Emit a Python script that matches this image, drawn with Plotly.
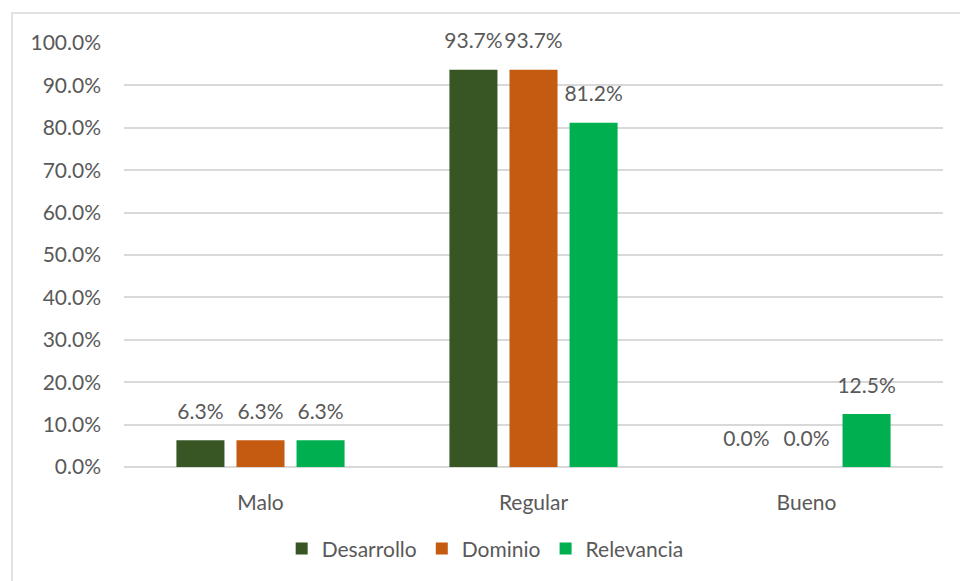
import plotly.graph_objects as go

categories = ["Malo", "Regular", "Bueno"]
series_names = ["Desarrollo", "Dominio", "Relevancia"]
desarrollo = [0.063, 0.937, 0.0]
dominio = [0.063, 0.937, 0.0]
relevancia = [0.063, 0.812, 0.125]
colors = ["#375623", "#C55A11", "#00B050"]
y_ticks = [0, 0.1, 0.2, 0.3, 0.4, 0.5, 0.6, 0.7, 0.8, 0.9, 1.0]

FONT = "Lato, 'Open Sans', sans-serif"
GRAY = "#595959"
FS = 21

fig = go.Figure()
series = [desarrollo, dominio, relevancia]
for i, (name, vals, col) in enumerate(zip(series_names, series, colors)):
    fig.add_trace(go.Bar(
        x=categories, y=vals, name=name, offsetgroup=str(i),
        marker=dict(color=col, line=dict(width=0)),
    ))
for i, (name, vals) in enumerate(zip(series_names, series)):
    fig.add_trace(go.Scatter(
        x=categories, y=vals, name=name, offsetgroup=str(i), showlegend=False,
        mode="markers+text", marker=dict(size=24, opacity=0),
        text=[f"{v:.1%}" for v in vals], textposition="top center",
        textfont=dict(family=FONT, size=FS, color=GRAY),
        cliponaxis=False, hoverinfo="skip",
    ))

fig.update_layout(
    width=960, height=581,
    margin=dict(l=124, r=17, t=43, b=110),
    paper_bgcolor="white", plot_bgcolor="white",
    barmode="group", bargap=0.34, bargroupgap=0.2,
    scattermode="group", scattergap=0.34,
    font=dict(family=FONT, size=FS, color=GRAY),
    legend=dict(orientation="h", x=0.441, xanchor="center", y=-0.193, yanchor="middle",
                font=dict(family=FONT, size=FS, color=GRAY), itemwidth=30,
                traceorder="normal"),
    xaxis=dict(showgrid=False, showline=False, ticks="", ticklabelstandoff=21,
               tickfont=dict(family=FONT, size=FS, color=GRAY)),
    yaxis=dict(range=[0, 1.0], tickvals=y_ticks, tickformat=".1%",
               showgrid=True, gridcolor="#D9D9D9", gridwidth=1.5,
               zeroline=True, zerolinecolor="#D9D9D9", zerolinewidth=1.5,
               showline=False, ticks="", ticklabelstandoff=22,
               tickfont=dict(family=FONT, size=FS, color=GRAY)),
    shapes=[dict(type="rect", xref="paper", yref="paper",
                 x0=(12 - 124) / 819, x1=1.1, y0=-0.4, y1=(466 - 12) / 424,
                 line=dict(color="#D9D9D9", width=1.5), fillcolor="rgba(0,0,0,0)",
                 layer="below")],
)

fig.write_html("out.html", config={"displayModeBar": False},
               post_script="document.body.style.margin='0';")
